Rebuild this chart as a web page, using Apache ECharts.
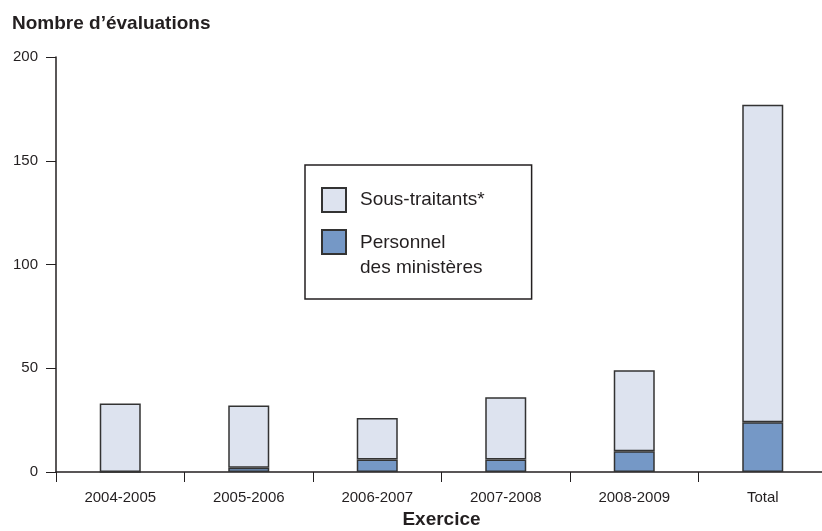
<!DOCTYPE html>
<html>
<head>
<meta charset="utf-8">
<script src="https://cdn.jsdelivr.net/npm/echarts@6/dist/echarts.min.js"></script>
<style>
  html, body { margin: 0; padding: 0; background: #fff; }
  #chart { width: 822px; height: 531px; }
</style>
</head>
<body>
<div id="chart"></div>
<script>
// data
const categories = ['2004-2005', '2005-2006', '2006-2007', '2007-2008', '2008-2009', 'Total']
const personnel = [0, 2, 6, 6, 10, 24]
const sousTraitants = [33, 30, 20, 30, 39, 153]
const yTicks = [0, 50, 100, 150, 200]

const FONT = '"Liberation Sans", Arial, sans-serif'
const ink = '#231f20'

const myChart = echarts.init(document.getElementById('chart'))

const barStyle = (color) => ({
  color: color,
  borderColor: '#333',
  borderWidth: 1.5
})

// legend swatches live in a 24x50 box: centred for the one-line label,
// at the top for the two-line label so it lines up with "Personnel"
const iconMiddle = 'path://M0,0M24,50M0,13h24v24h-24Z'
const iconTop = 'path://M0,0M24,50M0,0h24v24h-24Z'

const option = {
  backgroundColor: '#fff',
  animation: false,
  title: {
    text: 'Nombre d\u2019évaluations',
    left: 7,
    top: 9,
    textStyle: { fontFamily: FONT, fontSize: 19, fontWeight: 'bold', color: ink }
  },
  legend: {
    orient: 'vertical',
    left: 305,
    top: 165,
    data: [
      { name: 'Sous-traitants*', icon: iconMiddle },
      { name: 'Personnel des ministères', icon: iconTop }
    ],
    itemWidth: 24,
    itemHeight: 50,
    itemGap: 3,
    padding: [9, 47, 18, 16],
    borderColor: ink,
    borderWidth: 1.5,
    formatter: (name) => name === 'Personnel des ministères' ? 'Personnel\ndes ministères' : name,
    textStyle: { fontFamily: FONT, fontSize: 19, color: ink, lineHeight: 25, padding: [0, 0, 0, 9] }
  },
  grid: { left: 56, right: -5, top: 57, bottom: 59, outerBoundsMode: 'none' },
  xAxis: {
    type: 'category',
    data: categories,
    name: 'Exercice',
    nameLocation: 'middle',
    nameGap: 38,
    nameTextStyle: { fontFamily: FONT, fontSize: 19, fontWeight: 'bold', color: ink },
    axisLine: { lineStyle: { color: ink, width: 1.5 } },
    axisTick: { show: true, length: 10, lineStyle: { color: ink } },
    axisLabel: { fontFamily: FONT, fontSize: 15, color: ink, margin: 18 }
  },
  yAxis: {
    type: 'value',
    min: yTicks[0],
    max: yTicks[yTicks.length - 1],
    interval: 50,
    axisLine: { show: true, lineStyle: { color: ink, width: 1.5 } },
    axisTick: { show: true, length: 10, lineStyle: { color: ink } },
    axisLabel: { fontFamily: FONT, fontSize: 15, color: ink, margin: 18 },
    splitLine: { show: false }
  },
  series: [
    {
      name: 'Personnel des ministères',
      type: 'bar',
      stack: 'eval',
      barWidth: 41,
      itemStyle: barStyle('#7598c6'),
      data: personnel
    },
    {
      name: 'Sous-traitants*',
      type: 'bar',
      stack: 'eval',
      barWidth: 41,
      itemStyle: barStyle('#dde3ef'),
      data: sousTraitants
    }
  ]
}
myChart.setOption(option)
</script>
</body>
</html>
